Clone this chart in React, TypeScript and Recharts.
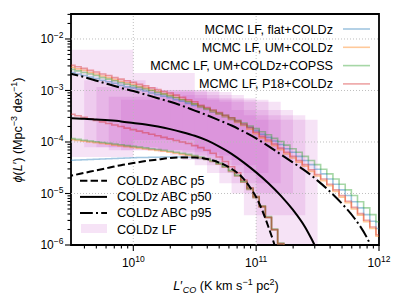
import React from "react";
import { ComposedChart, Line, XAxis, YAxis, ReferenceArea, ReferenceLine } from "recharts";

// ---- data (log10 values) ----
const binLogL = [9.45,9.5,9.55,9.6,9.65,9.7,9.75,9.8,9.85,9.9,9.95,10,10.05,10.1,10.15,10.2,10.25,10.3,10.35,10.4,10.45,10.5,10.55,10.6,10.65,10.7,10.75,10.8,10.85,10.9,10.95,11,11.05,11.1,11.15,11.2,11.25,11.3,11.35,11.4,11.45,11.5,11.55,11.6,11.65,11.7,11.75,11.8,11.85,11.9,11.95,12.0];

const flatUpper = [-2.62,-2.65,-2.68,-2.71,-2.74,-2.77,-2.8,-2.83,-2.86,-2.9,-2.93,-2.95,-2.98,-3.01,-3.05,-3.08,-3.11,-3.14,-3.18,-3.21,-3.25,-3.29,-3.33,-3.37,-3.42,-3.46,-3.51,-3.56,-3.61,-3.67,-3.72,-3.78,-3.85,-3.91,-3.98,-4.05,-4.13,-4.2,-4.28,-4.36,-4.44,-4.53,-4.62,-4.72,-4.82,-4.93,-5.04,-5.16,-5.28,-5.41,-5.54,-5.68];
const umUpper = [-2.52,-2.55,-2.58,-2.61,-2.65,-2.68,-2.72,-2.75,-2.79,-2.82,-2.85,-2.88,-2.92,-2.95,-2.99,-3.02,-3.06,-3.09,-3.13,-3.17,-3.21,-3.26,-3.32,-3.36,-3.41,-3.46,-3.51,-3.56,-3.62,-3.68,-3.75,-3.84,-3.92,-3.99,-4.07,-4.15,-4.23,-4.31,-4.39,-4.47,-4.57,-4.66,-4.75,-4.85,-4.96,-5.07,-5.18,-5.3,-5.42,-5.55,-5.68,-5.83];
const copssUpper = [-2.56,-2.59,-2.62,-2.65,-2.68,-2.71,-2.75,-2.78,-2.81,-2.85,-2.88,-2.91,-2.94,-2.97,-3.0,-3.04,-3.07,-3.11,-3.14,-3.18,-3.22,-3.26,-3.3,-3.35,-3.39,-3.44,-3.48,-3.53,-3.58,-3.63,-3.69,-3.74,-3.8,-3.86,-3.93,-3.99,-4.06,-4.13,-4.2,-4.28,-4.36,-4.44,-4.53,-4.62,-4.72,-4.82,-4.93,-5.04,-5.16,-5.28,-5.41,-5.55];
const p18Upper = [-2.48,-2.51,-2.54,-2.57,-2.61,-2.64,-2.68,-2.71,-2.75,-2.78,-2.81,-2.84,-2.88,-2.91,-2.95,-2.98,-3.02,-3.05,-3.09,-3.13,-3.18,-3.22,-3.29,-3.33,-3.38,-3.43,-3.48,-3.53,-3.59,-3.65,-3.72,-3.81,-3.89,-3.96,-4.04,-4.12,-4.2,-4.28,-4.36,-4.44,-4.54,-4.63,-4.72,-4.82,-4.93,-5.04,-5.15,-5.27,-5.39,-5.52,-5.65,-5.8];

const flatLower = [-4.36,-4.355,-4.35,-4.345,-4.34,-4.335,-4.33,-4.325,-4.32,-4.315,-4.31,-4.305,-4.3,-4.3,-4.295,-4.295,-4.29,-4.29,-4.29,-4.29,-4.295,-4.3,-4.32,-4.34,-4.38,-4.43,-4.49,-4.57,-4.66,-4.78,-4.92,-5.08,-5.26,-5.47,-5.71,-5.98,-6.27];
const umLower = [-3.94,-3.955,-3.97,-3.985,-4.0,-4.015,-4.03,-4.045,-4.06,-4.075,-4.09,-4.105,-4.12,-4.135,-4.15,-4.165,-4.18,-4.2,-4.22,-4.24,-4.26,-4.285,-4.31,-4.34,-4.38,-4.43,-4.49,-4.57,-4.66,-4.78,-4.92,-5.08,-5.26,-5.47,-5.71,-5.98,-6.27];
const copssLower = [-3.92,-3.935,-3.95,-3.965,-3.98,-3.995,-4.01,-4.025,-4.04,-4.055,-4.07,-4.085,-4.1,-4.115,-4.13,-4.145,-4.16,-4.18,-4.2,-4.22,-4.24,-4.265,-4.29,-4.32,-4.36,-4.41,-4.47,-4.55,-4.64,-4.76,-4.9,-5.06,-5.24,-5.45,-5.69,-5.96,-6.25];
const p18Lower = [-3.43,-3.46,-3.49,-3.52,-3.55,-3.58,-3.61,-3.64,-3.67,-3.7,-3.73,-3.76,-3.79,-3.82,-3.85,-3.88,-3.91,-3.94,-3.97,-4.0,-4.03,-4.07,-4.11,-4.16,-4.22,-4.29,-4.38,-4.48,-4.6,-4.74,-4.89,-5.06,-5.25,-5.46,-5.7,-5.97,-6.25];

const p5LogL = [9.45,9.5,9.6,9.7,9.8,9.9,10,10.1,10.2,10.3,10.4,10.5,10.6,10.7,10.8,10.9,10.95,11,11.05,11.1,11.15,11.2];
const p5LogPhi = [-4.67,-4.65,-4.6,-4.55,-4.5,-4.45,-4.41,-4.37,-4.34,-4.31,-4.3,-4.3,-4.33,-4.4,-4.52,-4.72,-4.88,-5.07,-5.33,-5.65,-6.0,-6.4];
const p50LogL = [9.45,9.5,9.6,9.7,9.8,9.9,10,10.1,10.2,10.3,10.4,10.5,10.6,10.7,10.8,10.9,11,11.1,11.2,11.3,11.4,11.45,11.5];
const p50LogPhi = [-3.54,-3.54,-3.55,-3.565,-3.58,-3.6,-3.63,-3.66,-3.7,-3.75,-3.81,-3.88,-3.97,-4.09,-4.23,-4.4,-4.59,-4.8,-5.04,-5.32,-5.66,-5.88,-6.12];
const p95LogL = [9.45,9.5,9.6,9.7,9.8,9.9,10,10.1,10.2,10.3,10.4,10.5,10.6,10.7,10.8,10.9,11,11.1,11.2,11.3,11.4,11.5,11.6,11.7,11.8,11.9,11.95];
const p95LogPhi = [-2.65,-2.68,-2.74,-2.81,-2.88,-2.95,-3.01,-3.08,-3.15,-3.22,-3.3,-3.39,-3.48,-3.58,-3.68,-3.8,-3.93,-4.08,-4.24,-4.4,-4.56,-4.75,-4.96,-5.2,-5.48,-5.85,-6.1];

// COLDz LF boxes
const boxStartLogL = [9.5,9.6,9.7,9.8,9.9,10.0,10.1,10.2,10.3,10.4,10.5,10.6,10.7,10.8,10.9,11.0];
const boxWidthDex = 0.5;
const boxTopLogPhi = [-2.21,-2.8,-2.93,-3.12,-3.18,-2.66,-2.99,-2.99,-3.03,-3.09,-3.15,-3.18,-3.22,-3.38,-3.48,-3.57];
const boxBottomLogPhi = [-4.29,-4.1,-4.1,-4.16,-4.16,-3.96,-4.16,-4.2,-4.26,-4.35,-4.45,-4.6,-4.8,-5.0,-5.42,-6.5];

const xMajorTicks = [1e10, 1e11, 1e12];
const xMinorTicks = [4e9,5e9,6e9,7e9,8e9,9e9,2e10,3e10,4e10,5e10,6e10,7e10,8e10,9e10,2e11,3e11,4e11,5e11,6e11,7e11,8e11,9e11];
const yMajorTicks = [1e-6, 1e-5, 1e-4, 1e-3, 1e-2];
const yMinorTicks = [2e-6,3e-6,4e-6,5e-6,6e-6,7e-6,8e-6,9e-6,2e-5,3e-5,4e-5,5e-5,6e-5,7e-5,8e-5,9e-5,2e-4,3e-4,4e-4,5e-4,6e-4,7e-4,8e-4,9e-4,2e-3,3e-3,4e-3,5e-3,6e-3,7e-3,8e-3,9e-3,2e-2,3e-2];

const mcmcLabels = ["MCMC LF, flat+COLDz", "MCMC LF, UM+COLDz", "MCMC LF, UM+COLDz+COPSS", "MCMC LF, P18+COLDz"];
const abcLabels = ["COLDz ABC p5", "COLDz ABC p50", "COLDz ABC p95", "COLDz LF"];

// ---- helpers ----
const X_DOMAIN = [3.11e9, 1e12];
const Y_DOMAIN = [1e-6, 0.03055];
const FONT = "'Liberation Sans', Arial, Helvetica, sans-serif";
const COLORS = ["#1f77b4", "#ff7f0e", "#2ca02c", "#d62728"];
const BOX_COLOR = "#c040c0";
const BOX_ALPHA = 0.145;

const toPts = (ls: number[], vs: number[]) => vs.map((v, i) => ({ x: Math.pow(10, ls[i]), y: Math.pow(10, v) }));

const uppers = [flatUpper, umUpper, copssUpper, p18Upper];
const lowers = [flatLower, umLower, copssLower, p18Lower];

const isMajor = (v: number) => {
  const l = Math.log10(v);
  return Math.abs(l - Math.round(l)) < 1e-6;
};

const YTick = (props: any) => {
  const { x, y, payload } = props;
  const v = payload.value;
  const major = isMajor(v);
  const e = Math.round(Math.log10(v));
  return (
    <g>
      <line x1={x} x2={x - (major ? 6 : 3.5)} y1={y} y2={y} stroke="#000" strokeWidth={1.1} />
      {major && (
        <text x={x - 7.5} y={y + 4.3} textAnchor="end" fontSize={12} fontFamily={FONT} fill="#000">
          10<tspan dy={-5} fontSize={8.5}>{"\u2212" + (-e)}</tspan>
        </text>
      )}
    </g>
  );
};

const XTick = (props: any) => {
  const { x, y, payload } = props;
  const v = payload.value;
  const major = isMajor(v);
  const e = Math.round(Math.log10(v));
  return (
    <g>
      <line x1={x} x2={x} y1={y} y2={y + (major ? 6 : 3.5)} stroke="#000" strokeWidth={1.1} />
      {major && (
        <text x={x} y={y + 22} textAnchor="middle" fontSize={12} fontFamily={FONT} fill="#000">
          10<tspan dy={-5} fontSize={8.5}>{String(e)}</tspan>
        </text>
      )}
    </g>
  );
};

export default function App() {
  const stepLines: any[] = [];
  uppers.forEach((arr, i) => {
    stepLines.push(
      <Line key={"u" + i} data={toPts(binLogL, arr)} dataKey="y" type="step" stroke={COLORS[i]} strokeOpacity={0.42}
        strokeWidth={1.6} dot={false} activeDot={false} isAnimationActive={false} />
    );
    stepLines.push(
      <Line key={"l" + i} data={toPts(binLogL, lowers[i])} dataKey="y" type="step" stroke={COLORS[i]} strokeOpacity={0.42}
        strokeWidth={1.6} dot={false} activeDot={false} isAnimationActive={false} />
    );
  });

  return (
    <div style={{ position: "absolute", left: 0, top: 0, width: 399, height: 299, background: "#fff" }}>
      <ComposedChart width={399} height={299} margin={{ top: 14, right: 20, left: 0, bottom: 0 }}>
        <XAxis dataKey="x" type="number" scale="log" domain={X_DOMAIN} allowDataOverflow
          ticks={[...xMinorTicks, ...xMajorTicks]} interval={0} tick={<XTick />} tickLine={false}
          tickSize={0} tickMargin={0} axisLine={false} height={54} />
        <YAxis type="number" scale="log" domain={Y_DOMAIN} allowDataOverflow
          ticks={[...yMinorTicks, ...yMajorTicks]} interval={0} tick={<YTick />} tickLine={false}
          tickSize={0} tickMargin={0} axisLine={false} width={71} />
        {boxStartLogL.map((s, i) => (
          <ReferenceArea key={"b" + i} x1={Math.pow(10, s)} x2={Math.pow(10, s + boxWidthDex)}
            y1={Math.pow(10, boxBottomLogPhi[i])} y2={Math.pow(10, boxTopLogPhi[i])}
            fill={BOX_COLOR} fillOpacity={BOX_ALPHA} stroke="none" ifOverflow="hidden" />
        ))}
        {xMajorTicks.slice(0, 2).map((v) => (
          <ReferenceLine key={"gx" + v} x={v} stroke="#b8b8b8" strokeWidth={0.9} strokeDasharray="1 2" />
        ))}
        {yMajorTicks.slice(1).map((v) => (
          <ReferenceLine key={"gy" + v} y={v} stroke="#b8b8b8" strokeWidth={0.9} strokeDasharray="1 2" />
        ))}
        {stepLines}
        <Line data={toPts(p5LogL, p5LogPhi)} dataKey="y" type="monotone" stroke="#000" strokeWidth={2}
          strokeDasharray="7.4 3.2" dot={false} activeDot={false} isAnimationActive={false} />
        <Line data={toPts(p50LogL, p50LogPhi)} dataKey="y" type="monotone" stroke="#000" strokeWidth={2}
          dot={false} activeDot={false} isAnimationActive={false} />
        <Line data={toPts(p95LogL, p95LogPhi)} dataKey="y" type="monotone" stroke="#000" strokeWidth={2}
          strokeDasharray="12.8 3.2 2 3.2" dot={false} activeDot={false} isAnimationActive={false} />
        <ReferenceArea x1={X_DOMAIN[0]} x2={X_DOMAIN[1]} y1={Y_DOMAIN[0]} y2={Y_DOMAIN[1]}
          fill="none" stroke="#000" strokeWidth={1.8} ifOverflow="visible" />
      </ComposedChart>
      <svg width={399} height={299} style={{ position: "absolute", left: 0, top: 0, pointerEvents: "none" }}
        fontFamily={FONT}>
        {mcmcLabels.map((t, i) => (
          <g key={t}>
            <text x={333} y={33.5 + i * 18.3} textAnchor="end" fontSize={12.6} fill="#000">{t}</text>
            <line x1={343} x2={370} y1={29 + i * 18.3} y2={29 + i * 18.3} stroke={COLORS[i]} strokeOpacity={0.42} strokeWidth={1.6} />
          </g>
        ))}
        {abcLabels.map((t, i) => (
          <text key={t} x={117} y={185 + i * 16.2} fontSize={12.6} fill="#000">{t}</text>
        ))}
        <line x1={80} x2={107} y1={180.7} y2={180.7} stroke="#000" strokeWidth={2} strokeDasharray="7.4 3.2" />
        <line x1={80} x2={107} y1={196.9} y2={196.9} stroke="#000" strokeWidth={2} />
        <line x1={80} x2={107} y1={213.1} y2={213.1} stroke="#000" strokeWidth={2} strokeDasharray="12.8 3.2 2 3.2" />
        <rect x={81} y={224} width={26} height={9} fill={BOX_COLOR} fillOpacity={BOX_ALPHA} />
        <text x={226} y={290} textAnchor="middle" fontSize={12.6} fill="#000">
          <tspan fontStyle="italic">L</tspan>
          <tspan>{"\u2032"}</tspan>
          <tspan dy={3} fontSize={9} fontStyle="italic">CO</tspan>
          <tspan dy={-3}>{" (K km s"}</tspan>
          <tspan dy={-5} fontSize={9}>{"\u22121"}</tspan>
          <tspan dy={5}>{" pc"}</tspan>
          <tspan dy={-5} fontSize={9}>2</tspan>
          <tspan dy={5}>)</tspan>
        </text>
        <text transform="translate(22,130) rotate(-90)" textAnchor="middle" fontSize={12.6} fill="#000">
          <tspan fontStyle="italic">{"\u03D5"}</tspan>
          <tspan>(</tspan>
          <tspan fontStyle="italic">L</tspan>
          <tspan>{"\u2032) (Mpc"}</tspan>
          <tspan dy={-5} fontSize={9}>{"\u22123"}</tspan>
          <tspan dy={5}>{" dex"}</tspan>
          <tspan dy={-5} fontSize={9}>{"\u22121"}</tspan>
          <tspan dy={5}>)</tspan>
        </text>
      </svg>
    </div>
  );
}
